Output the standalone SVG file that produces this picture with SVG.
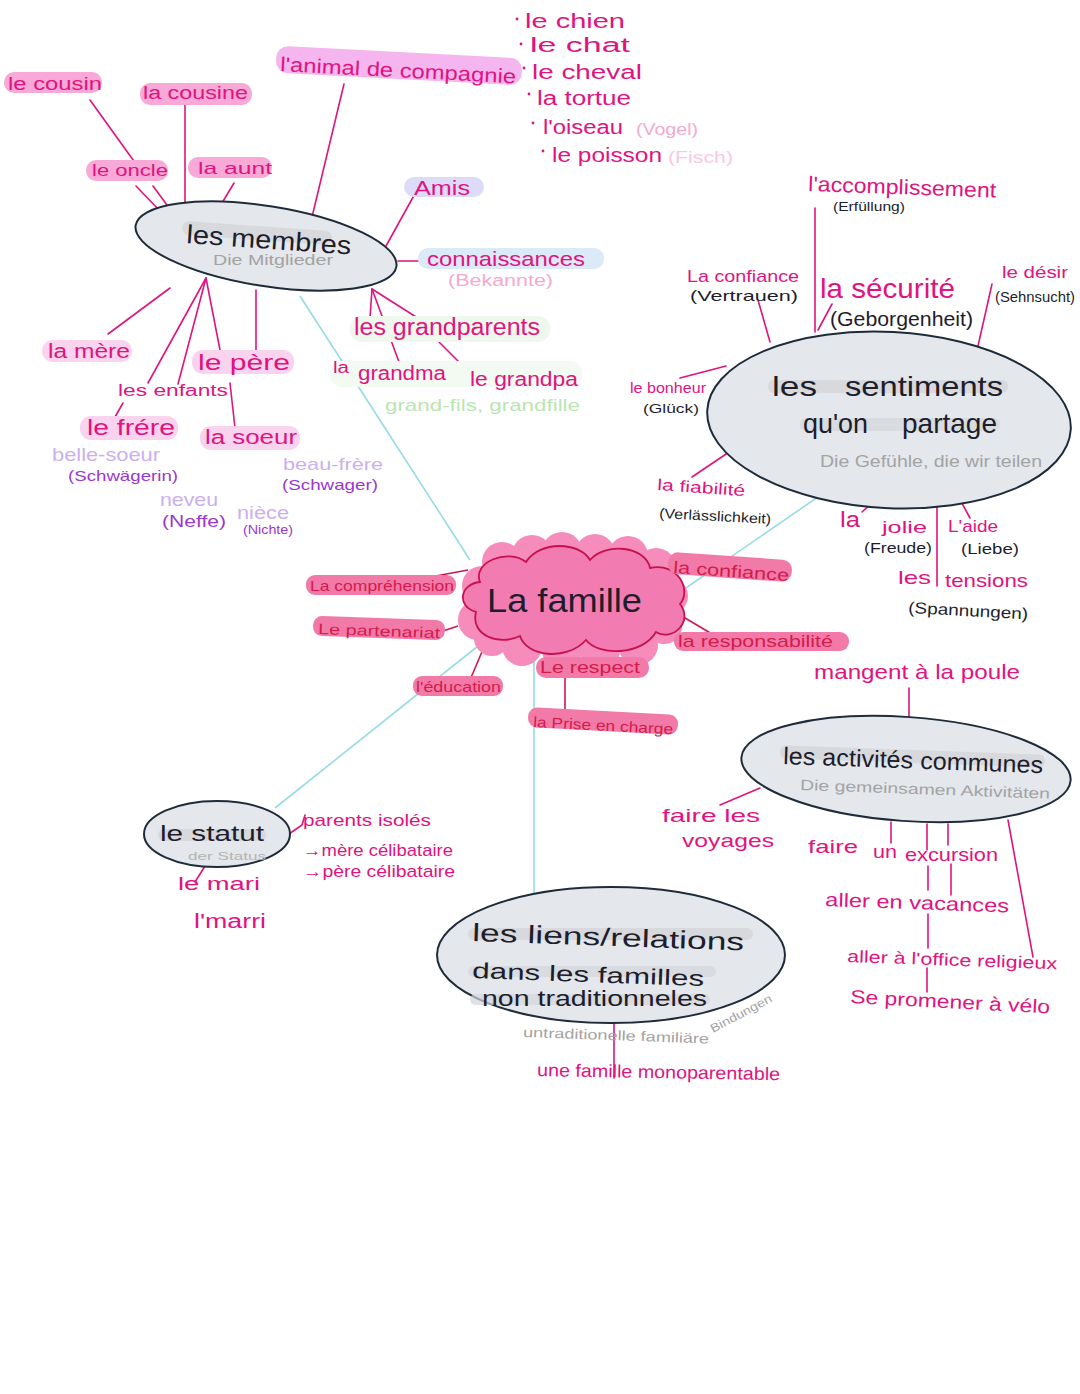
<svg xmlns="http://www.w3.org/2000/svg" width="1080" height="1394" viewBox="0 0 1080 1394">
<style>
text { font-family: "Liberation Sans", "DejaVu Sans", sans-serif; }
.m { fill:#e0137f; }
.k { fill:#1d1d2b; }
.g { fill:#a3a3a3; }
.r { fill:#d21c4c; }
.lp { fill:#cbb0ee; }
.pp { fill:#9a37d2; }
.lpk { fill:#f4a9cf; }
.lg { fill:#b9e6b2; }
.ln { stroke:#e0137f; stroke-width:1.6; fill:none; stroke-linecap:round; }
.rl { stroke:#d01650; stroke-width:1.6; fill:none; }
.cy { stroke:#95dbe8; stroke-width:1.6; fill:none; }
.bub { fill:#e4e7eb; stroke:#1e2b3a; stroke-width:2; }
.band { fill:#d3d6da; }
.h1 { fill:#f8a9d8; }
.h2 { fill:#fad3ee; }
.hr { fill:#f27aa8; }
.dot { fill:#e0137f; }
</style>

<g id="connectors">
  <line class="cy" x1="300" y1="296" x2="470" y2="560"/>
  <line class="cy" x1="680" y1="592" x2="828" y2="490"/>
  <line class="cy" x1="478" y1="646" x2="275" y2="808"/>
  <line class="cy" x1="534" y1="658" x2="534" y2="895"/>
  <line class="ln" x1="90" y1="100" x2="136" y2="164"/>
  <line class="ln" x1="136" y1="186" x2="159" y2="210"/>
  <line class="ln" x1="153" y1="186" x2="167" y2="205"/>
  <line class="ln" x1="185" y1="105" x2="185" y2="207"/>
  <line class="ln" x1="234" y1="183" x2="222" y2="203"/>
  <line class="ln" x1="344" y1="84" x2="312" y2="217"/>
  <line class="ln" x1="417" y1="190" x2="386" y2="246"/>
  <line class="ln" x1="398" y1="261" x2="429" y2="261"/>
  <line class="ln" x1="108" y1="334" x2="170" y2="288"/>
  <line class="ln" x1="206" y1="278" x2="148" y2="383"/>
  <line class="ln" x1="206" y1="278" x2="178" y2="384"/>
  <line class="ln" x1="206" y1="278" x2="220" y2="350"/>
  <line class="ln" x1="256" y1="290" x2="256" y2="350"/>
  <line class="ln" x1="123" y1="403" x2="115" y2="417"/>
  <line class="ln" x1="230" y1="383" x2="235" y2="428"/>
  <line class="ln" x1="372" y1="289" x2="370" y2="318"/>
  <line class="ln" x1="372" y1="289" x2="402" y2="370"/>
  <line class="ln" x1="372" y1="289" x2="424" y2="322"/>
  <line class="ln" x1="437" y1="340" x2="465" y2="368"/>
  <line class="ln" x1="815" y1="208" x2="815" y2="332"/>
  <line class="ln" x1="758" y1="300" x2="770" y2="342"/>
  <line class="ln" x1="818" y1="330" x2="832" y2="304"/>
  <line class="ln" x1="992" y1="284" x2="978" y2="346"/>
  <line class="ln" x1="680" y1="378" x2="726" y2="366"/>
  <line class="ln" x1="692" y1="477" x2="738" y2="446"/>
  <line class="ln" x1="862" y1="512" x2="882" y2="494"/>
  <line class="ln" x1="958" y1="496" x2="970" y2="518"/>
  <line class="ln" x1="937" y1="498" x2="937" y2="586"/>
  <line class="rl" x1="425" y1="578" x2="468" y2="570"/>
  <line class="rl" x1="440" y1="632" x2="458" y2="626"/>
  <line class="rl" x1="470" y1="680" x2="484" y2="647"/>
  <line class="rl" x1="588" y1="648" x2="588" y2="664"/>
  <line class="rl" x1="565" y1="648" x2="565" y2="712"/>
  <line class="rl" x1="680" y1="615" x2="712" y2="634"/>
  <path class="ln" d="M289,834 L302,825 L305,815"/>
  <line class="ln" x1="205" y1="866" x2="195" y2="882"/>
  <line class="ln" x1="614" y1="1022" x2="614" y2="1078"/>
  <line class="ln" x1="909" y1="688" x2="909" y2="717"/>
  <line class="ln" x1="720" y1="805" x2="760" y2="788"/>
  <line class="ln" x1="891" y1="822" x2="891" y2="843"/>
  <line class="ln" x1="927" y1="824" x2="927" y2="850"/>
  <line class="ln" x1="948" y1="824" x2="948" y2="845"/>
  <line class="ln" x1="928" y1="866" x2="928" y2="890"/>
  <line class="ln" x1="951" y1="864" x2="951" y2="895"/>
  <line class="ln" x1="928" y1="914" x2="928" y2="948"/>
  <line class="ln" x1="927" y1="968" x2="927" y2="992"/>
  <line class="ln" x1="1008" y1="820" x2="1033" y2="957"/>
</g>

<g id="node-membres">
  <ellipse class="bub" cx="266" cy="246" rx="132" ry="40" transform="rotate(9 266 246)"/>
  <rect class="band" x="182" y="226" width="150" height="14" rx="7" transform="rotate(4 257 233)" opacity="0.8"/>
  <text class="k" x="186" y="243" font-size="26" textLength="165" lengthAdjust="spacingAndGlyphs" transform="rotate(4 186 243)">les membres</text>
  <text class="g" x="213" y="265" font-size="14" textLength="120" lengthAdjust="spacingAndGlyphs">Die Mitglieder</text>
</g>
<g id="node-cousin">
  <rect class="h1" x="4" y="72" width="98" height="21" rx="10"/>
  <text class="m" x="8" y="90" font-size="18" textLength="94" lengthAdjust="spacingAndGlyphs">le cousin</text>
</g>
<g id="node-cousine">
  <rect class="h1" x="140" y="83" width="112" height="22" rx="10"/>
  <text class="m" x="143" y="99" font-size="18" textLength="105" lengthAdjust="spacingAndGlyphs">la cousine</text>
</g>
<g id="node-oncle">
  <rect class="h1" x="86" y="160" width="82" height="21" rx="10"/>
  <text class="m" x="92" y="176" font-size="17" textLength="76" lengthAdjust="spacingAndGlyphs">le oncle</text>
</g>
<g id="node-aunt">
  <rect class="h1" x="188" y="157" width="84" height="21" rx="10"/>
  <text class="m" x="198" y="174" font-size="17" textLength="74" lengthAdjust="spacingAndGlyphs">la aunt</text>
</g>
<g id="node-animal">
  <rect x="276" y="52" width="246" height="27" rx="12" fill="#f5b5ef" transform="rotate(3 399 65)"/>
  <text class="m" x="280" y="71" font-size="20" textLength="236" lengthAdjust="spacingAndGlyphs" transform="rotate(3 280 71)">l'animal de compagnie</text>
</g>
<g id="node-animals-list">
  <circle class="dot" cx="517" cy="19" r="1.4"/>
  <text class="m" x="525" y="28" font-size="20" textLength="100" lengthAdjust="spacingAndGlyphs">le chien</text>
  <circle class="dot" cx="521" cy="44" r="1.4"/>
  <text class="m" x="530" y="52" font-size="20" textLength="100" lengthAdjust="spacingAndGlyphs">le  chat</text>
  <circle class="dot" cx="524" cy="68" r="1.4"/>
  <text class="m" x="532" y="79" font-size="20" textLength="110" lengthAdjust="spacingAndGlyphs">le cheval</text>
  <circle class="dot" cx="529" cy="94" r="1.4"/>
  <text class="m" x="537" y="105" font-size="20" textLength="94" lengthAdjust="spacingAndGlyphs">la tortue</text>
  <circle class="dot" cx="533" cy="123" r="1.4"/>
  <text class="m" x="543" y="134" font-size="20" textLength="80" lengthAdjust="spacingAndGlyphs">l'oiseau</text>
  <text class="lpk" x="636" y="135" font-size="17" textLength="62" lengthAdjust="spacingAndGlyphs">(Vogel)</text>
  <circle class="dot" cx="543" cy="151" r="1.4"/>
  <text class="m" x="552" y="162" font-size="20" textLength="110" lengthAdjust="spacingAndGlyphs">le poisson</text>
  <text x="668" y="163" font-size="16" fill="#f8c8df" textLength="65" lengthAdjust="spacingAndGlyphs">(Fisch)</text>
</g>
<g id="node-amis">
  <rect x="404" y="177" width="80" height="20" rx="10" fill="#dcdcf8"/>
  <text class="m" x="414" y="195" font-size="20" textLength="56" lengthAdjust="spacingAndGlyphs">Amis</text>
</g>
<g id="node-connaissances">
  <rect x="418" y="248" width="186" height="21" rx="10" fill="#dce9f7"/>
  <text class="m" x="427" y="266" font-size="21" textLength="158" lengthAdjust="spacingAndGlyphs">connaissances</text>
  <text class="lpk" x="448" y="286" font-size="16" textLength="105" lengthAdjust="spacingAndGlyphs">(Bekannte)</text>
</g>
<g id="node-mere">
  <rect class="h2" x="42" y="340" width="90" height="22" rx="11"/>
  <text class="m" x="48" y="358" font-size="20" textLength="82" lengthAdjust="spacingAndGlyphs">la mère</text>
</g>
<g id="node-pere">
  <rect class="h2" x="192" y="350" width="102" height="24" rx="11"/>
  <text class="m" x="198" y="370" font-size="22" textLength="92" lengthAdjust="spacingAndGlyphs">le père</text>
</g>
<g id="node-enfants">
  <text class="m" x="118" y="396" font-size="16" textLength="110" lengthAdjust="spacingAndGlyphs">les enfants</text>
</g>
<g id="node-frere">
  <rect class="h2" x="80" y="416" width="98" height="24" rx="11"/>
  <text class="m" x="87" y="435" font-size="22" textLength="88" lengthAdjust="spacingAndGlyphs">le frére</text>
  <text class="lp" x="52" y="461" font-size="19" textLength="108" lengthAdjust="spacingAndGlyphs">belle-soeur</text>
  <text class="pp" x="68" y="481" font-size="15" textLength="110" lengthAdjust="spacingAndGlyphs">(Schwägerin)</text>
</g>
<g id="node-soeur">
  <rect class="h2" x="200" y="426" width="100" height="24" rx="11"/>
  <text class="m" x="205" y="444" font-size="20" textLength="92" lengthAdjust="spacingAndGlyphs">la  soeur</text>
  <text class="lp" x="283" y="470" font-size="17" textLength="100" lengthAdjust="spacingAndGlyphs">beau-frère</text>
  <text class="pp" x="282" y="490" font-size="15" textLength="96" lengthAdjust="spacingAndGlyphs">(Schwager)</text>
</g>
<g id="node-neveu">
  <text class="lp" x="160" y="506" font-size="19" textLength="58" lengthAdjust="spacingAndGlyphs">neveu</text>
  <text class="pp" x="162" y="527" font-size="16" textLength="64" lengthAdjust="spacingAndGlyphs">(Neffe)</text>
  <text class="lp" x="237" y="519" font-size="18" textLength="52" lengthAdjust="spacingAndGlyphs">nièce</text>
  <text class="pp" x="243" y="534" font-size="12" textLength="50" lengthAdjust="spacingAndGlyphs">(Nichte)</text>
</g>
<g id="node-grandparents">
  <rect x="350" y="316" width="200" height="26" rx="12" fill="#eef8ec"/>
  <rect x="330" y="361" width="252" height="26" rx="12" fill="#f3faf1"/>
  <text class="m" x="354" y="335" font-size="23" textLength="186" lengthAdjust="spacingAndGlyphs">les grandparents</text>
  <text class="m" x="333" y="373" font-size="16" textLength="16" lengthAdjust="spacingAndGlyphs">la</text>
  <text class="m" x="358" y="380" font-size="20" textLength="88" lengthAdjust="spacingAndGlyphs">grandma</text>
  <text class="m" x="470" y="386" font-size="20" textLength="108" lengthAdjust="spacingAndGlyphs">le grandpa</text>
  <text class="lg" x="385" y="411" font-size="17" textLength="195" lengthAdjust="spacingAndGlyphs">grand-fils, grandfille</text>
</g>

<g id="node-famille">
  <g fill="#f58cbc">
    <ellipse cx="572" cy="603" rx="100" ry="48"/>
    <circle cx="482" cy="586" r="20"/>
    <circle cx="478" cy="620" r="20"/>
    <circle cx="502" cy="562" r="20"/>
    <circle cx="532" cy="555" r="20"/>
    <circle cx="562" cy="552" r="20"/>
    <circle cx="595" cy="554" r="20"/>
    <circle cx="628" cy="556" r="20"/>
    <circle cx="656" cy="568" r="20"/>
    <circle cx="670" cy="596" r="18"/>
    <circle cx="664" cy="626" r="18"/>
    <circle cx="638" cy="645" r="20"/>
    <circle cx="600" cy="650" r="20"/>
    <circle cx="562" cy="650" r="20"/>
    <circle cx="522" cy="646" r="20"/>
    <circle cx="492" cy="638" r="18"/>
  </g>
  <path d="M476,612 C456,606 460,584 480,582 C472,562 508,548 526,562 C540,540 580,542 590,560 C605,542 646,546 650,568 C678,562 692,590 680,604 C694,622 672,642 656,632 C642,656 598,656 586,640 C566,662 526,656 520,636 C500,646 470,636 476,612 Z" fill="#f27cb1" stroke="#c8104e" stroke-width="1.8"/>
  <text class="k" x="487" y="612" font-size="34" textLength="155" lengthAdjust="spacingAndGlyphs">La famille</text>
</g>
<g id="node-comprehension">
  <rect class="hr" x="306" y="575" width="150" height="20" rx="9"/>
  <text class="r" x="310" y="591" font-size="15" textLength="144" lengthAdjust="spacingAndGlyphs">La compréhension</text>
</g>
<g id="node-partenariat">
  <rect class="hr" x="313" y="618" width="132" height="20" rx="9" transform="rotate(2 379 628)"/>
  <text class="r" x="318" y="634" font-size="15" textLength="122" lengthAdjust="spacingAndGlyphs" transform="rotate(2 318 634)">Le partenariat</text>
</g>
<g id="node-education">
  <rect class="hr" x="413" y="676" width="90" height="20" rx="9"/>
  <text class="r" x="416" y="692" font-size="15" textLength="85" lengthAdjust="spacingAndGlyphs">l'éducation</text>
</g>
<g id="node-respect">
  <rect class="hr" x="536" y="657" width="113" height="21" rx="10"/>
  <text class="r" x="540" y="673" font-size="17" textLength="100" lengthAdjust="spacingAndGlyphs">Le respect</text>
</g>
<g id="node-prise">
  <rect class="hr" x="528" y="711" width="150" height="20" rx="9" transform="rotate(3 603 721)"/>
  <text class="r" x="533" y="727" font-size="15" textLength="140" lengthAdjust="spacingAndGlyphs" transform="rotate(3 533 727)">la Prise en charge</text>
</g>
<g id="node-confiance-famille">
  <rect class="hr" x="668" y="556" width="124" height="22" rx="10" transform="rotate(4 730 567)"/>
  <text class="r" x="673" y="573" font-size="17" textLength="116" lengthAdjust="spacingAndGlyphs" transform="rotate(4 673 573)">la confiance</text>
</g>
<g id="node-responsabilite">
  <rect class="hr" x="674" y="632" width="175" height="19" rx="9"/>
  <text class="r" x="678" y="647" font-size="17" textLength="155" lengthAdjust="spacingAndGlyphs">la  responsabilité</text>
</g>

<g id="node-sentiments">
  <ellipse class="bub" cx="889" cy="420" rx="182" ry="88" transform="rotate(3 889 420)"/>
  <rect class="band" x="768" y="380" width="240" height="13" rx="6" opacity="0.8"/>
  <rect class="band" x="800" y="418" width="200" height="13" rx="6" opacity="0.7"/>
  <text class="k" x="772" y="396" font-size="28" textLength="45" lengthAdjust="spacingAndGlyphs">les</text>
  <text class="k" x="845" y="396" font-size="28" textLength="158" lengthAdjust="spacingAndGlyphs">sentiments</text>
  <text class="k" x="803" y="433" font-size="28" textLength="65" lengthAdjust="spacingAndGlyphs">qu'on</text>
  <text class="k" x="902" y="433" font-size="28" textLength="95" lengthAdjust="spacingAndGlyphs">partage</text>
  <text class="g" x="820" y="467" font-size="16" textLength="222" lengthAdjust="spacingAndGlyphs">Die Gefühle, die wir teilen</text>
</g>
<g id="node-accomplissement">
  <text class="m" x="808" y="191" font-size="21" textLength="188" lengthAdjust="spacingAndGlyphs" transform="rotate(2 808 191)">l'accomplissement</text>
  <text class="k" x="833" y="211" font-size="13" textLength="72" lengthAdjust="spacingAndGlyphs">(Erfüllung)</text>
</g>
<g id="node-confiance-sent">
  <text class="m" x="687" y="282" font-size="17" textLength="112" lengthAdjust="spacingAndGlyphs">La confiance</text>
  <text class="k" x="690" y="301" font-size="15" textLength="108" lengthAdjust="spacingAndGlyphs">(Vertrauen)</text>
</g>
<g id="node-securite">
  <text class="m" x="820" y="298" font-size="28" textLength="135" lengthAdjust="spacingAndGlyphs">la sécurité</text>
  <text class="k" x="830" y="326" font-size="20" textLength="143" lengthAdjust="spacingAndGlyphs">(Geborgenheit)</text>
</g>
<g id="node-desir">
  <text class="m" x="1002" y="278" font-size="17" textLength="66" lengthAdjust="spacingAndGlyphs">le désir</text>
  <text class="k" x="995" y="302" font-size="15" textLength="80" lengthAdjust="spacingAndGlyphs">(Sehnsucht)</text>
</g>
<g id="node-bonheur">
  <text class="m" x="630" y="393" font-size="15" textLength="76" lengthAdjust="spacingAndGlyphs">le bonheur</text>
  <text class="k" x="643" y="413" font-size="13" textLength="56" lengthAdjust="spacingAndGlyphs">(Glück)</text>
</g>
<g id="node-fiabilite">
  <text class="m" x="657" y="490" font-size="16" textLength="88" lengthAdjust="spacingAndGlyphs" transform="rotate(4 657 490)">la fiabilité</text>
  <text class="k" x="659" y="518" font-size="14" textLength="112" lengthAdjust="spacingAndGlyphs" transform="rotate(3 659 518)">(Verlässlichkeit)</text>
</g>
<g id="node-jolie">
  <text class="m" x="840" y="527" font-size="22" textLength="20" lengthAdjust="spacingAndGlyphs">la</text>
  <text class="m" x="882" y="533" font-size="17" textLength="45" lengthAdjust="spacingAndGlyphs">jolie</text>
  <text class="k" x="864" y="553" font-size="14" textLength="68" lengthAdjust="spacingAndGlyphs">(Freude)</text>
</g>
<g id="node-aide">
  <text class="m" x="948" y="532" font-size="17" textLength="50" lengthAdjust="spacingAndGlyphs">L'aide</text>
  <text class="k" x="961" y="554" font-size="14" textLength="58" lengthAdjust="spacingAndGlyphs">(Liebe)</text>
</g>
<g id="node-tensions">
  <text class="m" x="898" y="584" font-size="19" textLength="33" lengthAdjust="spacingAndGlyphs">les</text>
  <text class="m" x="945" y="587" font-size="19" textLength="83" lengthAdjust="spacingAndGlyphs">tensions</text>
  <text class="k" x="908" y="613" font-size="16" textLength="120" lengthAdjust="spacingAndGlyphs" transform="rotate(3 908 613)">(Spannungen)</text>
</g>

<g id="node-activites">
  <ellipse class="bub" cx="906" cy="769" rx="165" ry="52" transform="rotate(4 906 769)"/>
  <rect class="band" x="780" y="750" width="265" height="13" rx="6" opacity="0.8" transform="rotate(2 912 756)"/>
  <text class="k" x="783" y="764" font-size="24" textLength="260" lengthAdjust="spacingAndGlyphs" transform="rotate(2 783 764)">les activités communes</text>
  <text class="g" x="800" y="790" font-size="15" textLength="250" lengthAdjust="spacingAndGlyphs" transform="rotate(2 800 790)">Die gemeinsamen Aktivitäten</text>
</g>
<g id="node-mangent">
  <text class="m" x="814" y="679" font-size="21" textLength="206" lengthAdjust="spacingAndGlyphs">mangent à la poule</text>
</g>
<g id="node-voyages">
  <text class="m" x="662" y="822" font-size="19" textLength="98" lengthAdjust="spacingAndGlyphs">faire les</text>
  <text class="m" x="682" y="847" font-size="19" textLength="92" lengthAdjust="spacingAndGlyphs">voyages</text>
</g>
<g id="node-excursion">
  <text class="m" x="808" y="853" font-size="19" textLength="50" lengthAdjust="spacingAndGlyphs">faire</text>
  <text class="m" x="873" y="858" font-size="19" textLength="24" lengthAdjust="spacingAndGlyphs">un</text>
  <text class="m" x="905" y="861" font-size="19" textLength="93" lengthAdjust="spacingAndGlyphs">excursion</text>
</g>
<g id="node-vacances">
  <text class="m" x="825" y="906" font-size="19" textLength="184" lengthAdjust="spacingAndGlyphs" transform="rotate(2 825 906)">aller en vacances</text>
</g>
<g id="node-office">
  <text class="m" x="847" y="962" font-size="17" textLength="210" lengthAdjust="spacingAndGlyphs" transform="rotate(2 847 962)">aller à l'office religieux</text>
</g>
<g id="node-velo">
  <text class="m" x="850" y="1003" font-size="19" textLength="200" lengthAdjust="spacingAndGlyphs" transform="rotate(3 850 1003)">Se promener à vélo</text>
</g>

<g id="node-statut">
  <ellipse class="bub" cx="217" cy="834" rx="73" ry="33"/>
  <rect class="band" x="158" y="829" width="108" height="12" rx="6" opacity="0.8"/>
  <text class="k" x="160" y="841" font-size="22" textLength="104" lengthAdjust="spacingAndGlyphs">le statut</text>
  <text x="188" y="860" font-size="11" fill="#b4b4b4" textLength="78" lengthAdjust="spacingAndGlyphs">der Status</text>
</g>
<g id="node-parents-isoles">
  <text class="m" x="303" y="826" font-size="17" textLength="128" lengthAdjust="spacingAndGlyphs">parents isolés</text>
  <text class="m" x="303" y="856" font-size="17" textLength="150" lengthAdjust="spacingAndGlyphs">→mère célibataire</text>
  <text class="m" x="303" y="877" font-size="17" textLength="152" lengthAdjust="spacingAndGlyphs">→père célibataire</text>
</g>
<g id="node-mari">
  <text class="m" x="178" y="890" font-size="18" textLength="82" lengthAdjust="spacingAndGlyphs">le mari</text>
  <text class="m" x="194" y="928" font-size="20" textLength="72" lengthAdjust="spacingAndGlyphs">l'marri</text>
</g>

<g id="node-liens">
  <ellipse class="bub" cx="611" cy="955" rx="174" ry="68"/>
  <rect class="band" x="468" y="928" width="285" height="12" rx="6" opacity="0.8"/>
  <rect class="band" x="468" y="966" width="248" height="11" rx="6" opacity="0.7"/>
  <rect class="band" x="470" y="994" width="240" height="11" rx="6" opacity="0.7"/>
  <text class="k" x="472" y="941" font-size="25" textLength="272" lengthAdjust="spacingAndGlyphs" transform="rotate(2 472 941)">les liens/relations</text>
  <text class="k" x="472" y="978" font-size="22" textLength="232" lengthAdjust="spacingAndGlyphs" transform="rotate(2 472 978)">dans les familles</text>
  <text class="k" x="482" y="1006" font-size="22" textLength="225" lengthAdjust="spacingAndGlyphs">non traditionneles</text>
  <text class="g" x="523" y="1037" font-size="14" textLength="186" lengthAdjust="spacingAndGlyphs" transform="rotate(2 523 1037)">untraditionelle familiäre</text>
  <text class="g" x="713" y="1033" font-size="12" textLength="68" lengthAdjust="spacingAndGlyphs" transform="rotate(-28 713 1033)">Bindungen</text>
</g>
<g id="node-monoparentale">
  <text class="m" x="537" y="1076" font-size="18" textLength="243" lengthAdjust="spacingAndGlyphs" transform="rotate(1 537 1076)">une famille monoparentable</text>
</g>
</svg>
